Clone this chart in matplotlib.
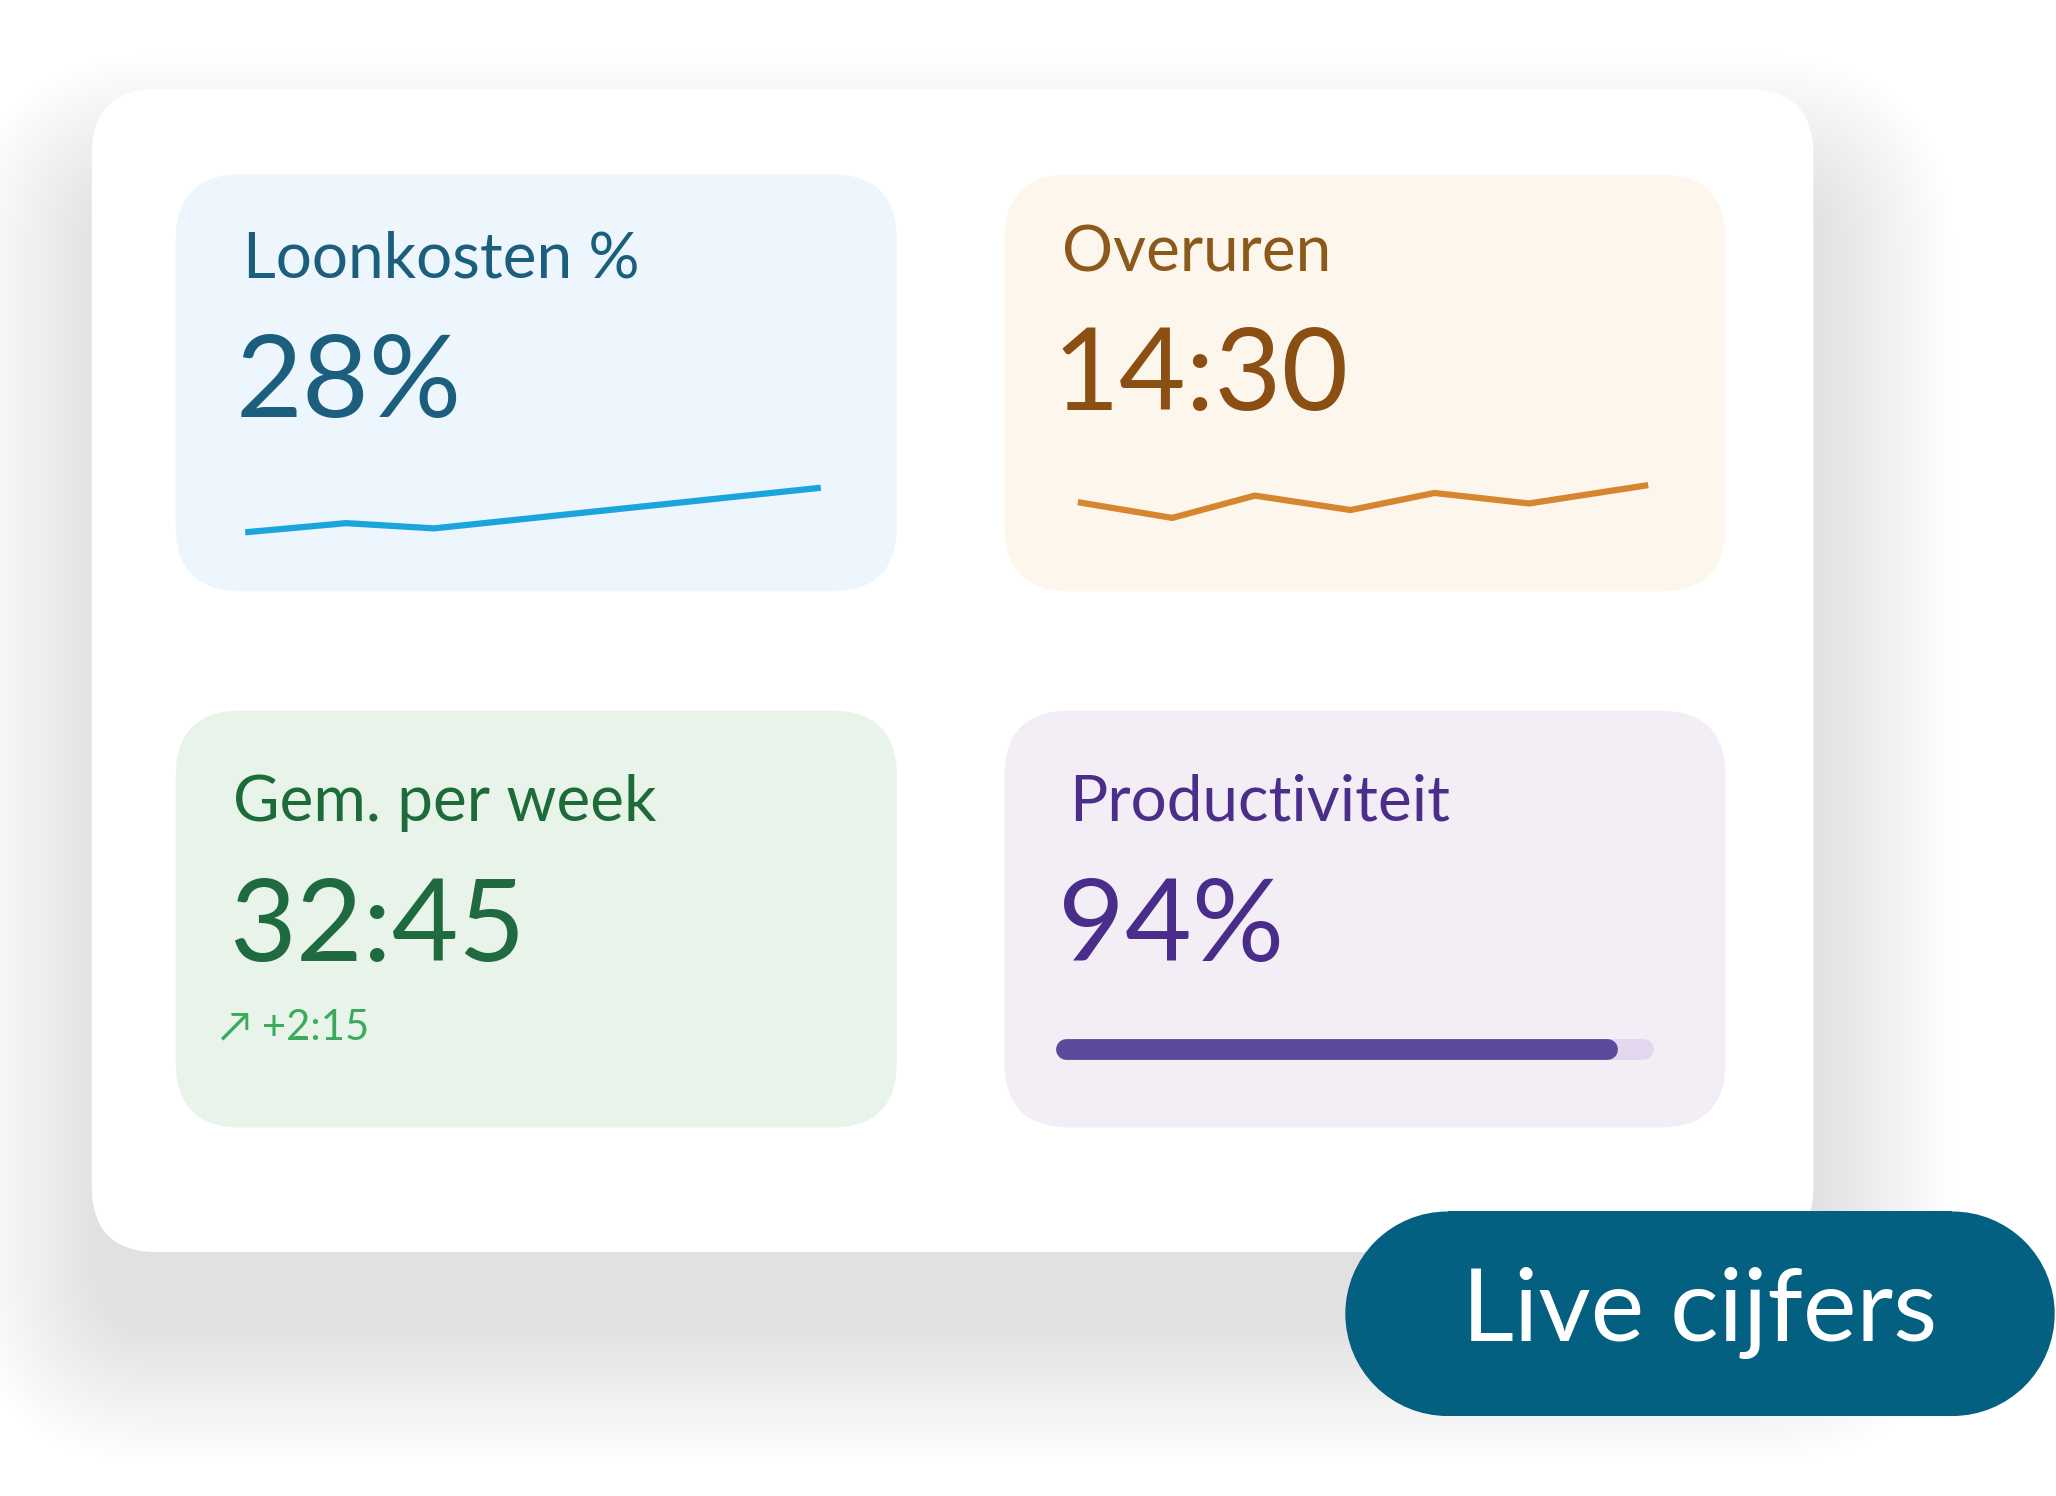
import matplotlib
matplotlib.use("Agg")
import matplotlib.pyplot as plt
from matplotlib.patches import FancyBboxPatch, Circle, Rectangle

plt.rcParams['font.family'] = ['Lato', 'DejaVu Sans']

titles = ["Loonkosten %", "Overuren", "Gem. per week", "Productiviteit"]
values = ["28%", "14:30", "32:45", "94%"]
delta_label = "↗ +2:15"
badge_label = "Live cijfers"
loon_x = [187, 264, 331, 626]
loon_y = [406, 399, 403, 372]
over_x = [822, 894, 957, 1030, 1094, 1166, 1257]
over_y = [383, 395, 378, 389, 376, 384, 370]
productivity = 0.94

fig = plt.figure(figsize=(20.56, 14.96), dpi=100)
ax = fig.add_axes([0, 0, 1, 1])
ax.set_xlim(0, 1568)
ax.set_ylim(1141, 0)
ax.axis('off')

def rbox(x0, y0, x1, y1, r, color, alpha=1.0, z=1):
    p = FancyBboxPatch((x0, y0), x1 - x0, y1 - y0,
                       boxstyle=f"round,pad=0,rounding_size={r}",
                       fc=color, ec='none', alpha=alpha, zorder=z)
    ax.add_patch(p)

# soft shadow (shifted downward)
for i in range(30):
    g = 3.5 * i
    rbox(70 - g + 5, 68 - g + 75, 1383 + g + 5, 955 + g + 60, 50 + g, '#000000', 0.0045, 0)
rbox(70, 68, 1383, 955, 50, 'white', 1, 1)

panels = [
    (134, 133, 684, 451, '#EDF6FC', '#1B5E7E', '#1B5E7E', 185, 212, 180, 318),
    (766, 133, 1316, 451, '#FDF6EC', '#8B5A1B', '#8B4F14', 810, 207, 803, 313),
    (134, 542, 684, 860, '#E8F3EA', '#1E6B3A', '#1F6B3F', 178, 626, 175, 733),
    (766, 542, 1316, 860, '#F3EEF6', '#4B2E8A', '#4A2C8A', 815, 626, 807, 733),
]
for (x0, y0, x1, y1, bg, tc, vc, tx, ty, vx, vy), t, v in zip(panels, titles, values):
    rbox(x0, y0, x1, y1, 50, bg, 1, 2)
    ax.text(tx, ty, t, color=tc, fontsize=46, va='baseline', ha='left', zorder=3)
    ax.text(vx, vy, v, color=vc, fontsize=83, va='baseline', ha='left', zorder=3)

ax.plot(loon_x, loon_y, color='#1AA6DC', lw=4.5, zorder=3, solid_capstyle='butt')
ax.plot(over_x, over_y, color='#D4872F', lw=4.5, zorder=3, solid_capstyle='butt')
ax.text(168, 793, delta_label, color='#3BAA5C', fontsize=30, va='baseline', ha='left', zorder=3,
        family=['Lato', 'DejaVu Sans'])

bx0, bx1, by, cap = 807, 1259, 800, 6
ax.plot([bx0 + cap, bx1 - cap], [by, by], color='#E2D7EE', lw=15, solid_capstyle='round', zorder=3)
ax.plot([bx0 + cap, bx0 + productivity * (bx1 - bx0) - cap], [by, by], color='#5B4A9C', lw=15,
        solid_capstyle='round', zorder=4)

# pill badge
px0, px1, py0, py1 = 1026, 1567, 924, 1080
r = (py1 - py0) / 2
ax.add_patch(Rectangle((px0 + r, py0), px1 - px0 - 2 * r, py1 - py0, fc='#036080', ec='none', zorder=5))
ax.add_patch(Circle((px0 + r, py0 + r), r, fc='#036080', ec='none', zorder=5))
ax.add_patch(Circle((px1 - r, py0 + r), r, fc='#036080', ec='none', zorder=5))
ax.text(1296, 1023, badge_label, color='white', fontsize=73, va='baseline', ha='center', zorder=6)

fig.savefig('out.png', dpi=100, facecolor='white')
